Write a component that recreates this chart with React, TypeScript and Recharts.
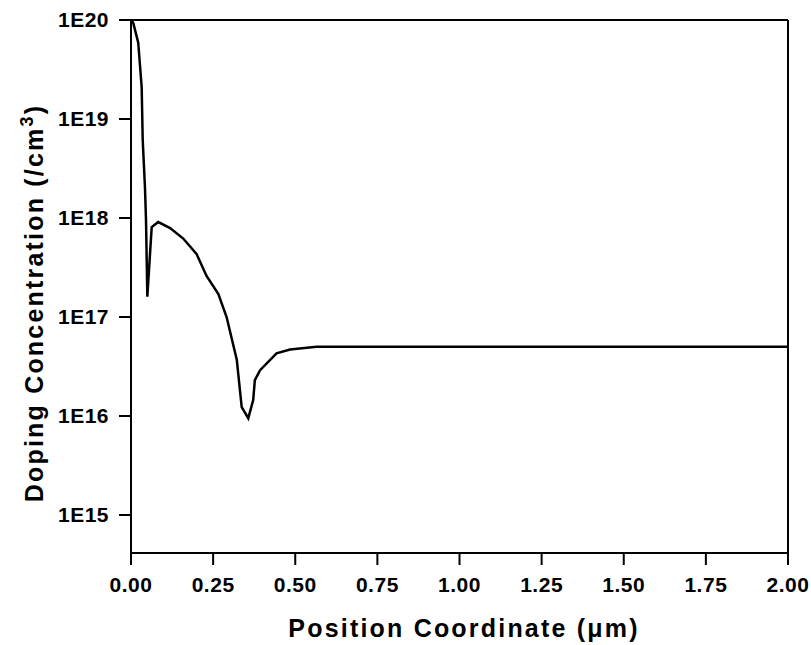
import { LineChart, Line, XAxis, YAxis, ReferenceLine } from 'recharts';

// position (µm) and doping concentration (/cm³)
const positions = [
  0, 0.007, 0.022, 0.0325, 0.0356, 0.0426, 0.0457, 0.0497, 0.063, 0.083, 0.119, 0.159, 0.2, 0.23,
  0.266, 0.291, 0.322, 0.337, 0.357, 0.372, 0.377, 0.393, 0.443, 0.484, 0.565, 2.0,
];
const doping = [
  1e20, 9.3e19, 5.9e19, 2.1e19, 6.2e18, 2.0e18, 9.5e17, 1.6e17, 8.1e17, 9.1e17, 7.9e17, 6.2e17, 4.3e17,
  2.6e17, 1.7e17, 1.0e17, 3.7e16, 1.23e16, 9.5e15, 1.45e16, 2.3e16, 2.9e16, 4.3e16, 4.7e16, 5.0e16, 5.0e16,
];
const xTicks = [0, 0.25, 0.5, 0.75, 1.0, 1.25, 1.5, 1.75, 2.0];
const yTicks = [1e15, 1e16, 1e17, 1e18, 1e19, 1e20];

const data = positions.map((x, i) => ({ x, y: doping[i] }));

const font = '"Liberation Sans", Arial, sans-serif';
const tickStyle = { fontSize: 21, fontWeight: 700, fill: '#000', fontFamily: font, letterSpacing: 0.5 };
const titleStyle = { fontSize: 25, fontWeight: 700, fontFamily: font, fill: '#000', letterSpacing: 2.2 };

function YTitle() {
  const cx = 43;
  const cy = 303;
  return (
    <text x={cx} y={cy} transform={`rotate(-90 ${cx} ${cy})`} textAnchor="middle" style={titleStyle}>
      Doping Concentration (/cm
      <tspan dy={-10} fontSize={18}>3</tspan>
      <tspan dy={10}>)</tspan>
    </text>
  );
}

function XTitle() {
  return (
    <text x={464} y={637} textAnchor="middle" style={titleStyle}>
      Position Coordinate (&mu;m)
    </text>
  );
}

export default function App() {
  return (
    <div style={{ position: 'absolute', left: 0, top: 0, background: '#fff' }}>
      <LineChart width={811} height={645} data={data} margin={{ top: 20, right: 23, bottom: 0, left: 0 }}>
        <XAxis
          type="number"
          dataKey="x"
          domain={[0, 2]}
          ticks={xTicks}
          tickFormatter={(v: number) => v.toFixed(2)}
          stroke="#000"
          strokeWidth={2}
          tickSize={12}
          tickMargin={12}
          tick={tickStyle}
          height={92}
          label={<XTitle />}
        />
        <YAxis
          type="number"
          scale="log"
          domain={[4.13e14, 1e20]}
          allowDataOverflow
          ticks={yTicks}
          tickFormatter={(v: number) => '1E' + Math.round(Math.log10(v))}
          stroke="#000"
          strokeWidth={2}
          tickSize={12}
          tickMargin={10}
          tick={tickStyle}
          width={131}
          label={<YTitle />}
        />
        <ReferenceLine y={1e20} stroke="#000" strokeWidth={2} />
        <ReferenceLine x={2} stroke="#000" strokeWidth={2} />
        <Line type="linear" dataKey="y" stroke="#000" strokeWidth={2.5} dot={false} isAnimationActive={false} />
      </LineChart>
    </div>
  );
}
